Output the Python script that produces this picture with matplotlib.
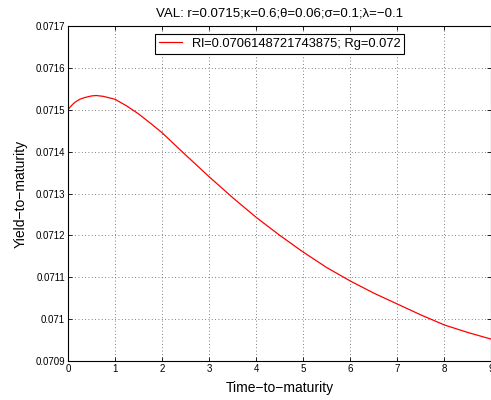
import matplotlib
matplotlib.use("Agg")
import matplotlib.pyplot as plt

plt.rcParams['font.family'] = ['Liberation Sans', 'DejaVu Sans']

# values
maturity = [0, 0.05, 0.1, 0.15, 0.25, 0.35, 0.5, 0.6, 0.75, 1, 1.25, 1.5,
            1.75, 2, 2.5, 3, 3.5, 4, 4.5, 5, 5.5, 6, 6.5, 7, 7.5, 8, 8.5, 9]
ytm = [0.071500, 0.071507, 0.071513, 0.071518, 0.071525, 0.071529,
       0.071533, 0.071534, 0.071532, 0.071525, 0.071509, 0.071490,
       0.071468, 0.071445, 0.071392, 0.071340, 0.071290, 0.071243,
       0.071200, 0.071160, 0.071123, 0.071091, 0.071062, 0.071036,
       0.071010, 0.070986, 0.070968, 0.070952]

xticks = list(range(0, 10))
yticks = [0.0709, 0.071, 0.0711, 0.0712, 0.0713, 0.0714, 0.0715, 0.0716, 0.0717]

fig = plt.figure(figsize=(4.91, 4.0), dpi=100)
ax = fig.add_axes([0.1385, 0.0975, 0.8625, 0.8375])

ax.plot(maturity, ytm, color='red', lw=0.9,
        label='Rl=0.0706148721743875; Rg=0.072')

ax.set_xlim(0, 9)
ax.set_ylim(0.0709, 0.0717)
ax.set_xticks(xticks)
ax.set_yticks(yticks)
ax.set_xticklabels([str(t) for t in xticks])
ax.set_yticklabels(['%g' % v for v in yticks])
ax.tick_params(direction='in', top=True, right=True, labelsize=7,
               length=3, width=0.6, pad=2)
for s in ax.spines.values():
    s.set_linewidth(0.8)

ax.grid(True, linestyle=(0, (1, 3)), color='#555555', lw=0.6)

ax.set_title('VAL: r=0.0715;κ=0.6;θ=0.06;σ=0.1;λ=\u22120.1', fontsize=9.5, pad=7)
ax.set_xlabel('Time\u2212to\u2212maturity', fontsize=10, labelpad=5)
ax.set_ylabel('Yield\u2212to\u2212maturity', fontsize=10, labelpad=6)

leg = ax.legend(loc='upper center', fontsize=9.3, fancybox=False,
                framealpha=1, edgecolor='black', handlelength=1.75,
                borderpad=0.3, borderaxespad=0.6)
leg.get_frame().set_linewidth(0.8)

fig.savefig('out.png', dpi=100)
